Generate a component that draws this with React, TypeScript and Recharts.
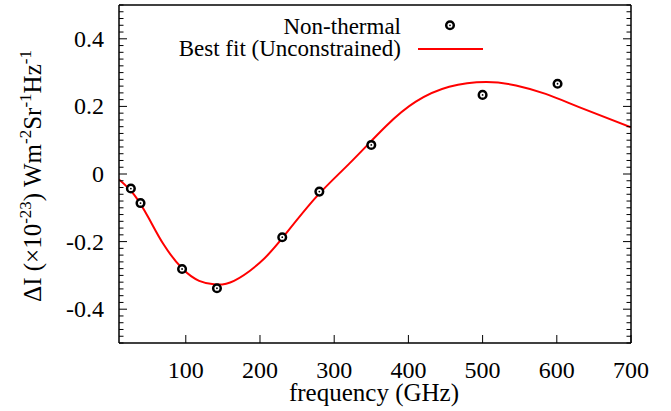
import { ComposedChart, Line, Scatter, XAxis, YAxis } from 'recharts';

// measured points (GHz, x1e-23 W m^-2 Sr^-1 Hz^-1)
const pointFreq = [26, 39, 95, 142, 230, 280, 350, 500, 601];
const pointValue = [-0.043, -0.086, -0.281, -0.338, -0.187, -0.052, 0.086, 0.234, 0.267];

// best-fit curve
const fitFreq = [10, 30, 50, 70, 95, 118, 140, 165, 200, 230, 275, 320, 370, 410, 455, 505, 545, 585, 630, 700];
const fitValue = [-0.016, -0.06, -0.13, -0.208, -0.279, -0.316, -0.327, -0.316, -0.262, -0.19, -0.07, 0.03, 0.142, 0.214, 0.258, 0.272, 0.262, 0.237, 0.198, 0.138];

const xTicks = [100, 200, 300, 400, 500, 600, 700];
const yMajor = [-0.4, -0.2, 0, 0.2, 0.4];
const yTicks: number[] = [];
for (let i = -25; i <= 25; i++) yTicks.push(Math.round(i * 2) / 100);

const points = pointFreq.map((f, i) => ({ f, v: pointValue[i] }));
const fit = fitFreq.map((f, i) => ({ f, v: fitValue[i] }));

const FONT = 'Liberation Serif, Times New Roman, DejaVu Serif, serif';
const MAJOR = 8;
const MINOR = 4.5;

const isMajor = (v: number) => yMajor.some(m => Math.abs(m - v) < 1e-6);

const txt = (size: number) => ({ fontFamily: FONT, fontSize: size });

const LeftTick = (props: any) => {
  const { x, y, payload } = props;
  const major = isMajor(payload.value);
  return (
    <g>
      <line x1={x} y1={y} x2={x + (major ? MAJOR : MINOR)} y2={y} stroke="#000" strokeWidth={1} />
      {major && (
        <text x={x - 15} y={y + 8} textAnchor="end" style={txt(24)} fill="#000">
          {String(payload.value)}
        </text>
      )}
    </g>
  );
};

const RightTick = (props: any) => {
  const { x, y, payload } = props;
  const major = isMajor(payload.value);
  return <line x1={x} y1={y} x2={x - (major ? MAJOR : MINOR)} y2={y} stroke="#000" strokeWidth={1} />;
};

const BottomTick = (props: any) => {
  const { x, y, payload } = props;
  return (
    <g>
      <line x1={x} y1={y} x2={x} y2={y - MAJOR} stroke="#000" strokeWidth={1} />
      <text x={x} y={y + 35} textAnchor="middle" style={txt(24)} fill="#000">
        {String(payload.value)}
      </text>
    </g>
  );
};

const Marker = (props: any) => {
  const { cx, cy } = props;
  return (
    <g>
      <circle cx={cx} cy={cy} r={3.8} fill="#fff" stroke="#000" strokeWidth={2.5} />
      <circle cx={cx} cy={cy} r={0.9} fill="#000" />
    </g>
  );
};

export default function App() {
  return (
    <div style={{ position: 'absolute', left: 0, top: 0, width: 671, height: 411, background: '#fff', fontFamily: FONT }}>
      <ComposedChart width={671} height={411} margin={{ top: 4, right: 39, bottom: 67, left: 118 }}>
        <XAxis
          xAxisId="b"
          dataKey="f"
          type="number"
          domain={[10, 700]}
          allowDataOverflow
          ticks={xTicks}
          interval={0}
          height={1}
          tickSize={0}
          tickMargin={0}
          tick={<BottomTick />}
          axisLine={{ stroke: '#000', strokeWidth: 1.5 }}
        />
        <XAxis
          xAxisId="t"
          orientation="top"
          dataKey="f"
          type="number"
          domain={[10, 700]}
          allowDataOverflow
          height={1}
          tick={false}
          tickLine={false}
          axisLine={{ stroke: '#000', strokeWidth: 1.5 }}
        />
        <YAxis
          yAxisId="l"
          dataKey="v"
          type="number"
          domain={[-0.5, 0.5]}
          allowDataOverflow
          ticks={yTicks}
          interval={0}
          width={1}
          tickSize={0}
          tickMargin={0}
          tick={<LeftTick />}
          axisLine={{ stroke: '#000', strokeWidth: 1.5 }}
        />
        <YAxis
          yAxisId="r"
          orientation="right"
          dataKey="v"
          type="number"
          domain={[-0.5, 0.5]}
          allowDataOverflow
          ticks={yTicks}
          interval={0}
          width={1}
          tickSize={0}
          tickMargin={0}
          tick={<RightTick />}
          axisLine={{ stroke: '#000', strokeWidth: 1.5 }}
        />
        <Line
          xAxisId="b"
          yAxisId="l"
          data={fit}
          dataKey="v"
          type="natural"
          stroke="#ff0000"
          strokeWidth={2}
          dot={false}
          activeDot={false}
          isAnimationActive={false}
        />
        <Scatter
          xAxisId="b"
          yAxisId="l"
          data={points}
          dataKey="v"
          shape={<Marker />}
          isAnimationActive={false}
        />
      </ComposedChart>
      <svg width={671} height={411} style={{ position: 'absolute', left: 0, top: 0, pointerEvents: 'none' }}>
        {/* legend */}
        <text x={401} y={34} textAnchor="end" style={txt(23)} fill="#000">Non-thermal</text>
        <Marker cx={450} cy={25.3} />
        <text x={401} y={56} textAnchor="end" style={txt(23)} fill="#000">Best fit (Unconstrained)</text>
        <line x1={418} y1={49} x2={483} y2={49} stroke="#ff0000" strokeWidth={2} />
        {/* axis titles */}
        <text x={374} y={401} textAnchor="middle" style={txt(25)} fill="#000">frequency (GHz)</text>
        <text x={41} y={176} transform="rotate(-90 41 176)" textAnchor="middle" style={txt(25)} fill="#000">
          ΔI (×10<tspan style={txt(17)} dy={-10}>-23</tspan>
          <tspan dy={10}>) Wm</tspan>
          <tspan style={txt(17)} dy={-10}>-2</tspan>
          <tspan dy={10}>Sr</tspan>
          <tspan style={txt(17)} dy={-10}>-1</tspan>
          <tspan dy={10}>Hz</tspan>
          <tspan style={txt(17)} dy={-10}>-1</tspan>
        </text>
      </svg>
    </div>
  );
}
